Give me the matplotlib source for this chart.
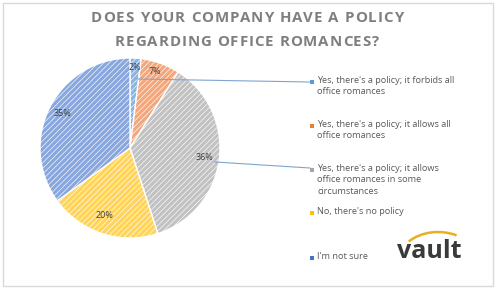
import matplotlib
matplotlib.use("Agg")
import matplotlib.pyplot as plt
from matplotlib.patches import Rectangle, Arc

categories = [
    "Yes, there's a policy; it forbids all\noffice romances",
    "Yes, there's a policy; it allows all\noffice romances",
    "Yes, there's a policy; it allows\noffice romances in some\ncircumstances",
    "No, there's no policy",
    "I'm not sure",
]
values = [2, 7, 36, 20, 35]
labels = ["2%", "7%", "36%", "20%", "35%"]
colors = ["#8AB4E2", "#F3A77C", "#C2C2C2", "#FFD458", "#88A7DE"]
marker_colors = ["#5B9BD5", "#ED7D31", "#A5A5A5", "#FFC000", "#4472C4"]
title_lines = ["DOES YOUR COMPANY HAVE A POLICY", "REGARDING OFFICE ROMANCES?"]

W, H = 498, 290
plt.rcParams['hatch.linewidth'] = 0.45
fig = plt.figure(figsize=(W / 100, H / 100), dpi=100)
fig.patch.set_facecolor("white")

ov = fig.add_axes([0, 0, 1, 1])
ov.set_xlim(0, W)
ov.set_ylim(H, 0)
ov.axis("off")
ov.add_patch(Rectangle((3, 3), W - 8, H - 7, fill=False, edgecolor="#D9D9D9", lw=1))

renderer = fig.canvas.get_renderer()
tkw = dict(fontsize=10.8, fontweight="bold", color="#7F7F7F", family="Open Sans",
           va="center", ha="left")
spacing = 0.95
for y, line in zip([18, 42], title_lines):
    texts = [ov.text(0, y, ch, **tkw) for ch in line]
    widths = []
    for t, ch in zip(texts, line):
        if ch == " ":
            probe = ov.text(0, 0, "a a", **tkw)
            w3 = probe.get_window_extent(renderer).width
            probe.set_text("aa")
            w2 = probe.get_window_extent(renderer).width
            probe.remove()
            widths.append(w3 - w2)
        else:
            widths.append(t.get_window_extent(renderer).width)
    total = sum(widths) + spacing * (len(line) - 1)
    x = 247 - total / 2
    for t, w in zip(texts, widths):
        t.set_x(x)
        x += w + spacing

cx, cy, r = 130, 148, 90
pa = fig.add_axes([(cx - r) / W, (H - cy - r) / H, 2 * r / W, 2 * r / H])
wedges, _ = pa.pie(values, colors=colors, startangle=90, counterclock=False,
                   wedgeprops=dict(edgecolor="white", linewidth=1.0, hatch="//////"))
pa.set_xlim(-1, 1)
pa.set_ylim(-1, 1)
pa.set_aspect("equal")

label_pos = [(135, 68), (155, 72), (205, 157), (104, 215), (63, 114)]
for (x, y), t in zip(label_pos, labels):
    ov.text(x, y, t, ha="center", va="center", fontsize=6.5, color="#404040", family="Open Sans")

ov.plot([137, 310], [79, 82], color="#7FA6CF", lw=0.8, zorder=5)
ov.plot([215, 310], [162, 168], color="#7FA6CF", lw=0.8, zorder=5)
ov.set_zorder(2)
ov.patch.set_alpha(0)

leg_y = [82, 126, 170, 213, 258]
for y, c, t in zip(leg_y, marker_colors, categories):
    ov.add_patch(Rectangle((310, y - 2), 3.5, 3.5, facecolor=c, edgecolor="none"))
    ov.text(317, y - 6, t, ha="left", va="top", fontsize=6.6, color="#595959",
            family="Open Sans", linespacing=1.35)

ov.add_patch(Arc((438, 262), 80, 60, theta1=215, theta2=305, color="#E8B020", lw=1.8, zorder=1))
ov.text(429, 251, "vault", ha="center", va="center", fontsize=18, fontweight="bold",
        color="#3A3A3A", family="Open Sans", zorder=3)

fig.savefig("out.png", dpi=100, facecolor="white")
